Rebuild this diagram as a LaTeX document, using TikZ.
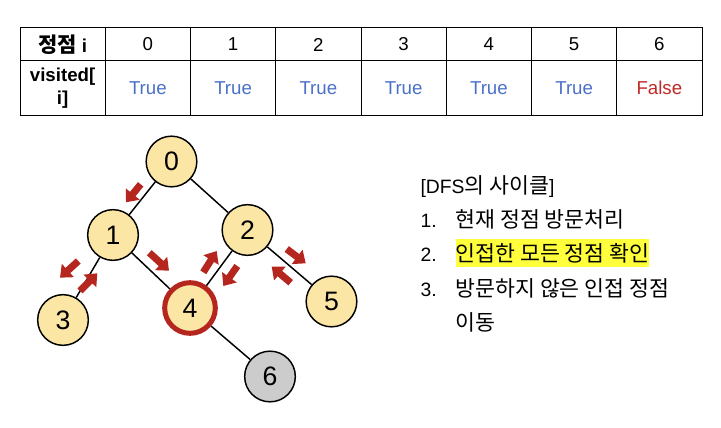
\documentclass[tikz,border=0pt]{standalone}
\usepackage{fontspec}
\setmainfont{Liberation Sans}
\newfontfamily\kr[Scale=1.12]{Noto Sans CJK KR}
\usetikzlibrary{arrows.meta}
\definecolor{vtxfill}{RGB}{252,230,165}
\definecolor{vtxgray}{RGB}{204,204,204}
\definecolor{darkred}{RGB}{181,38,30}
\definecolor{trueblue}{RGB}{74,112,200}
\definecolor{falsered}{RGB}{192,40,36}
\definecolor{hilite}{RGB}{255,255,60}
\tikzset{every picture/.style={line width=0.75pt}}
\tikzset{
  cell/.style={inner sep=0pt,font=\fontsize{14}{17.25}\selectfont},
  celltitle/.style={inner sep=0pt,align=center,font=\fontsize{14}{17.25}\selectfont\bfseries},
  vtx/.style={circle,draw,line width=1.1pt,fill=vtxfill,minimum size=38pt,inner sep=0pt,font=\fontsize{20}{21}\selectfont},
  edge/.style={line width=1.1pt},
  redarr/.style={darkred,line width=5.3pt,-{Triangle[length=8pt,width=13pt]}},
  txt/.style={anchor=base west,inner sep=0pt,font=\fontsize{14.5}{17}\selectfont}
}

\begin{document}
\begin{tikzpicture}[x=0.75pt,y=0.75pt,yscale=-1,xscale=1]
\useasboundingbox (0,0) rectangle (721,428);

% Table
\draw (20,28) rectangle (702,115);
\draw (20,61) -- (702,61);
\foreach \c in {1,...,7} \draw ({20+85.25*\c},28) -- ({20+85.25*\c},115);
\node[celltitle] (hd) at (62.6,44.5) {{\kr 정점} i};
\node[celltitle] (vd) at (62.6,88) {visited[\\i]};
\foreach \i in {0,...,6} \node[cell] (n\i) at ({20+85.25*(\i+1.5)},44.5) {\i};
\foreach \i in {0,...,5} \node[cell,text=trueblue] (t\i) at ({20+85.25*(\i+1.5)},88) {True};
\node[cell,text=falsered] (t6) at ({20+85.25*7.5},88) {False};

% Graph
\node[vtx] (v0) at (171.5,161.5) {0};
\node[vtx] (v1) at (113,235) {1};
\node[vtx] (v2) at (247.5,230) {2};
\node[vtx] (v3) at (63,320) {3};
\node[vtx,draw=darkred,line width=3.75pt] (v4) at (190,308) {4};
\node[vtx] (v5) at (331.5,301.5) {5};
\node[vtx,fill=vtxgray] (v6) at (270,376.5) {6};

\draw[edge] (v0) -- (v1);
\draw[edge] (v0) -- (v2);
\draw[edge] (v1) -- (v3);
\draw[edge] (v1) -- (v4);
\draw[edge] (v2) -- (v4);
\draw[edge] (v2) -- (v5);
\draw[edge] (v4) -- (v6);

% Red arrows
\draw[redarr] (140.7,184.3) -- (126,202.3);
\draw[redarr] (149.3,252.7) -- (169,270.7);
\draw[redarr] (78.3,261) -- (60,277.7);
\draw[redarr] (80,291) -- (97.3,273.3);
\draw[redarr] (203.3,272.3) -- (216.7,251);
\draw[redarr] (237.3,266) -- (223.3,286);
\draw[redarr] (286.7,249) -- (305.7,263.3);
\draw[redarr] (290.7,282.7) -- (271.7,266.7);

% Text
\node[txt] (ttl) at (420,193) {[DFS{\kr 의 사이클}]};
\node[txt] (k1) at (420,227) {1.};
\node[txt] (s1) at (455,227) {\kr 현재 정점 방문처리};
\node[txt] (k2) at (420,261) {2.};
\node[txt,fill=hilite,inner ysep=3pt] (s2) at (455,261) {\kr 인접한 모든 정점 확인};
\node[txt] (k3) at (420,296) {3.};
\node[txt] (s3) at (455,296) {\kr 방문하지 않은 인접 정점};
\node[txt] (s3b) at (455,330) {\kr 이동};

\end{tikzpicture}
\end{document}
